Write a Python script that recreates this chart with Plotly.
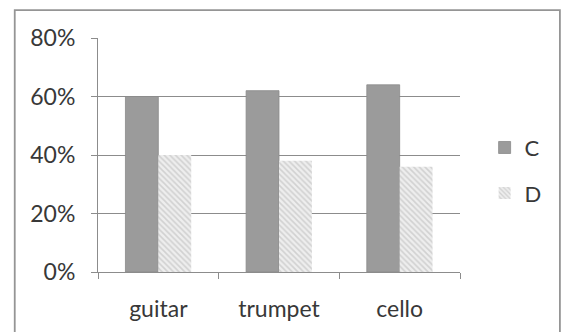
import plotly.graph_objects as go

categories = ["guitar", "trumpet", "cello"]
series_c = [0.60, 0.62, 0.64]
series_d = [0.40, 0.38, 0.36]
y_ticks = [0, 0.2, 0.4, 0.6, 0.8]
y_tick_labels = ["0%", "20%", "40%", "60%", "80%"]

FONT = "Lato"
TXT = "#383838"
GRID = "#8c8c8c"

fig = go.Figure()
fig.add_trace(go.Bar(
    name="C", x=categories, y=series_c, legendgroup="c",
    marker=dict(color="#9b9b9b", line=dict(color="#8a8a8a", width=0.8)),
))
fig.add_trace(go.Bar(
    name="D", x=categories, y=series_d, legendgroup="d",
    marker=dict(color="#eeeeee", line=dict(width=0),
                pattern=dict(shape="\\", fgcolor="#b4b4b4", bgcolor="#eeeeee",
                             size=4, solidity=0.4)),
))

fig.update_layout(
    width=568, height=332,
    margin=dict(l=98, r=108, t=38, b=59.5, autoexpand=False),
    paper_bgcolor="white", plot_bgcolor="white",
    barmode="group", bargap=0.455, bargroupgap=0,
    font=dict(family=FONT, color=TXT, size=22),
    showlegend=True,
    legend=dict(x=1.068, y=0.621, xanchor="left", yanchor="top",
                font=dict(size=22, color=TXT, family=FONT),
                traceorder="grouped", tracegroupgap=14,
                itemwidth=30, bgcolor="rgba(0,0,0,0)"),
    xaxis=dict(
        automargin=False,
        showline=True, linecolor=GRID, linewidth=1,
        ticks="outside", tickson="boundaries", ticklen=6, tickcolor=GRID,
        tickfont=dict(size=23, family=FONT, color=TXT),
        ticklabelstandoff=16, showgrid=False,
    ),
    yaxis=dict(
        automargin=False,
        range=[0, 0.8], tickvals=y_ticks, ticktext=y_tick_labels,
        showline=True, linecolor=GRID, linewidth=1,
        ticks="outside", ticklen=6, tickcolor=GRID,
        showgrid=True, gridcolor=GRID, gridwidth=1,
        tickfont=dict(size=23, family=FONT, color=TXT),
        ticklabelstandoff=11, zeroline=False,
    ),
    shapes=[dict(type="rect", xref="paper", yref="paper",
                 x0=-0.230, x1=1.276, y0=-0.3, y1=1.1194,
                 line=dict(color="#959595", width=1.8), layer="above")],
)

fig.write_html("out.html",
               config={"displayModeBar": False, "staticPlot": True},
               post_script="document.body.style.margin='0';document.body.style.overflow='hidden';")
